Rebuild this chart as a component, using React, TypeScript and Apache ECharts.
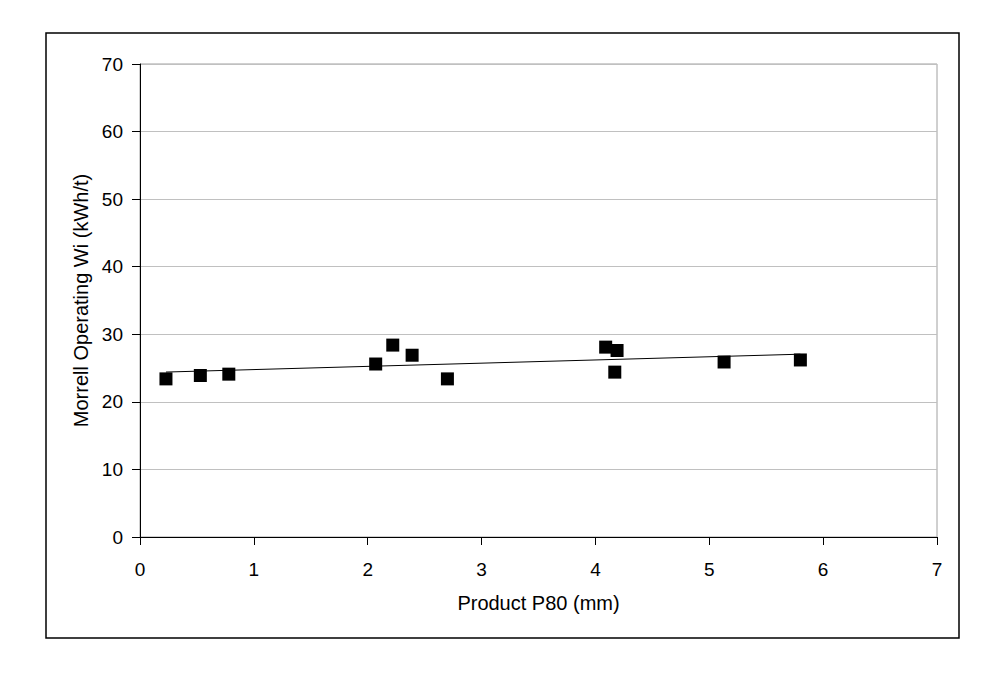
import React, { useEffect, useRef } from "react";
import * as echarts from "echarts";

const p80Values = [0.228, 0.53, 0.78, 2.07, 2.22, 2.39, 2.7, 4.09, 4.19, 4.17, 5.13, 5.8];
const wiValues = [23.4, 23.9, 24.1, 25.6, 28.4, 26.9, 23.4, 28.1, 27.6, 24.4, 25.9, 26.2];
const xTicks = [0, 1, 2, 3, 4, 5, 6, 7];
const yTicks = [0, 10, 20, 30, 40, 50, 60, 70];
const xTitle = "Product P80 (mm)";
const yTitle = "Morrell Operating Wi (kWh/t)";

function linearFit(xs: number[], ys: number[]) {
  const n = xs.length;
  const mx = xs.reduce((a, b) => a + b, 0) / n;
  const my = ys.reduce((a, b) => a + b, 0) / n;
  let sxy = 0;
  let sxx = 0;
  for (let i = 0; i < n; i++) {
    sxy += (xs[i] - mx) * (ys[i] - my);
    sxx += (xs[i] - mx) * (xs[i] - mx);
  }
  const slope = sxy / sxx;
  return { slope, intercept: my - slope * mx };
}

export default function App() {
  const ref = useRef<HTMLDivElement>(null);
  useEffect(() => {
    if (!ref.current) return;
    const chart = echarts.init(ref.current, null, { renderer: "svg" });
    const fit = linearFit(p80Values, wiValues);
    const xMin = Math.min(...p80Values);
    const xMax = Math.max(...p80Values);
    const trend = [
      [xMin, fit.intercept + fit.slope * xMin],
      [xMax, fit.intercept + fit.slope * xMax],
    ];
    const font = "'Liberation Sans', Arial, sans-serif";
    chart.setOption({
      animation: false,
      backgroundColor: "#ffffff",
      textStyle: { fontFamily: font },
      grid: {
        left: 140,
        top: 64,
        width: 797,
        height: 473,
        show: true,
        borderColor: "#a0a0a0",
        borderWidth: 1,
        backgroundColor: "transparent",
      },
      graphic: [
        {
          type: "rect",
          shape: { x: 46, y: 33, width: 913, height: 605 },
          style: { fill: "none", stroke: "#000", lineWidth: 1.5 },
          silent: true,
        },
      ],
      xAxis: {
        type: "value",
        min: xTicks[0],
        max: xTicks[xTicks.length - 1],
        interval: 1,
        name: xTitle,
        nameLocation: "middle",
        nameGap: 56,
        nameTextStyle: { fontSize: 20, color: "#000", fontFamily: font },
        axisLine: { show: true, onZero: false, lineStyle: { color: "#000", width: 1 } },
        axisTick: { show: true, length: 8, inside: false, lineStyle: { color: "#000" } },
        axisLabel: { fontSize: 19, color: "#000", margin: 23, fontFamily: font },
        splitLine: { show: false },
      },
      yAxis: {
        type: "value",
        min: yTicks[0],
        max: yTicks[yTicks.length - 1],
        interval: 10,
        name: yTitle,
        nameLocation: "middle",
        nameGap: 49,
        nameRotate: 90,
        nameTextStyle: { fontSize: 20, color: "#000", fontFamily: font },
        axisLine: { show: true, onZero: false, lineStyle: { color: "#000", width: 1 } },
        axisTick: { show: true, length: 8, inside: false, lineStyle: { color: "#000" } },
        axisLabel: { fontSize: 19, color: "#000", margin: 17, fontFamily: font },
        splitLine: { show: true, lineStyle: { color: "#c0c0c0", width: 1 } },
      },
      series: [
        {
          type: "line",
          data: trend,
          showSymbol: false,
          symbol: "none",
          lineStyle: { color: "#000", width: 1 },
          z: 2,
        },
        {
          type: "scatter",
          data: p80Values.map((x, i) => [x, wiValues[i]]),
          symbol: "rect",
          symbolSize: 13,
          itemStyle: { color: "#000", opacity: 1 },
          z: 3,
        },
      ],
    });
    return () => chart.dispose();
  }, []);
  return (
    <div
      ref={ref}
      style={{ position: "fixed", left: 0, top: 0, width: 1003, height: 676 }}
    />
  );
}
